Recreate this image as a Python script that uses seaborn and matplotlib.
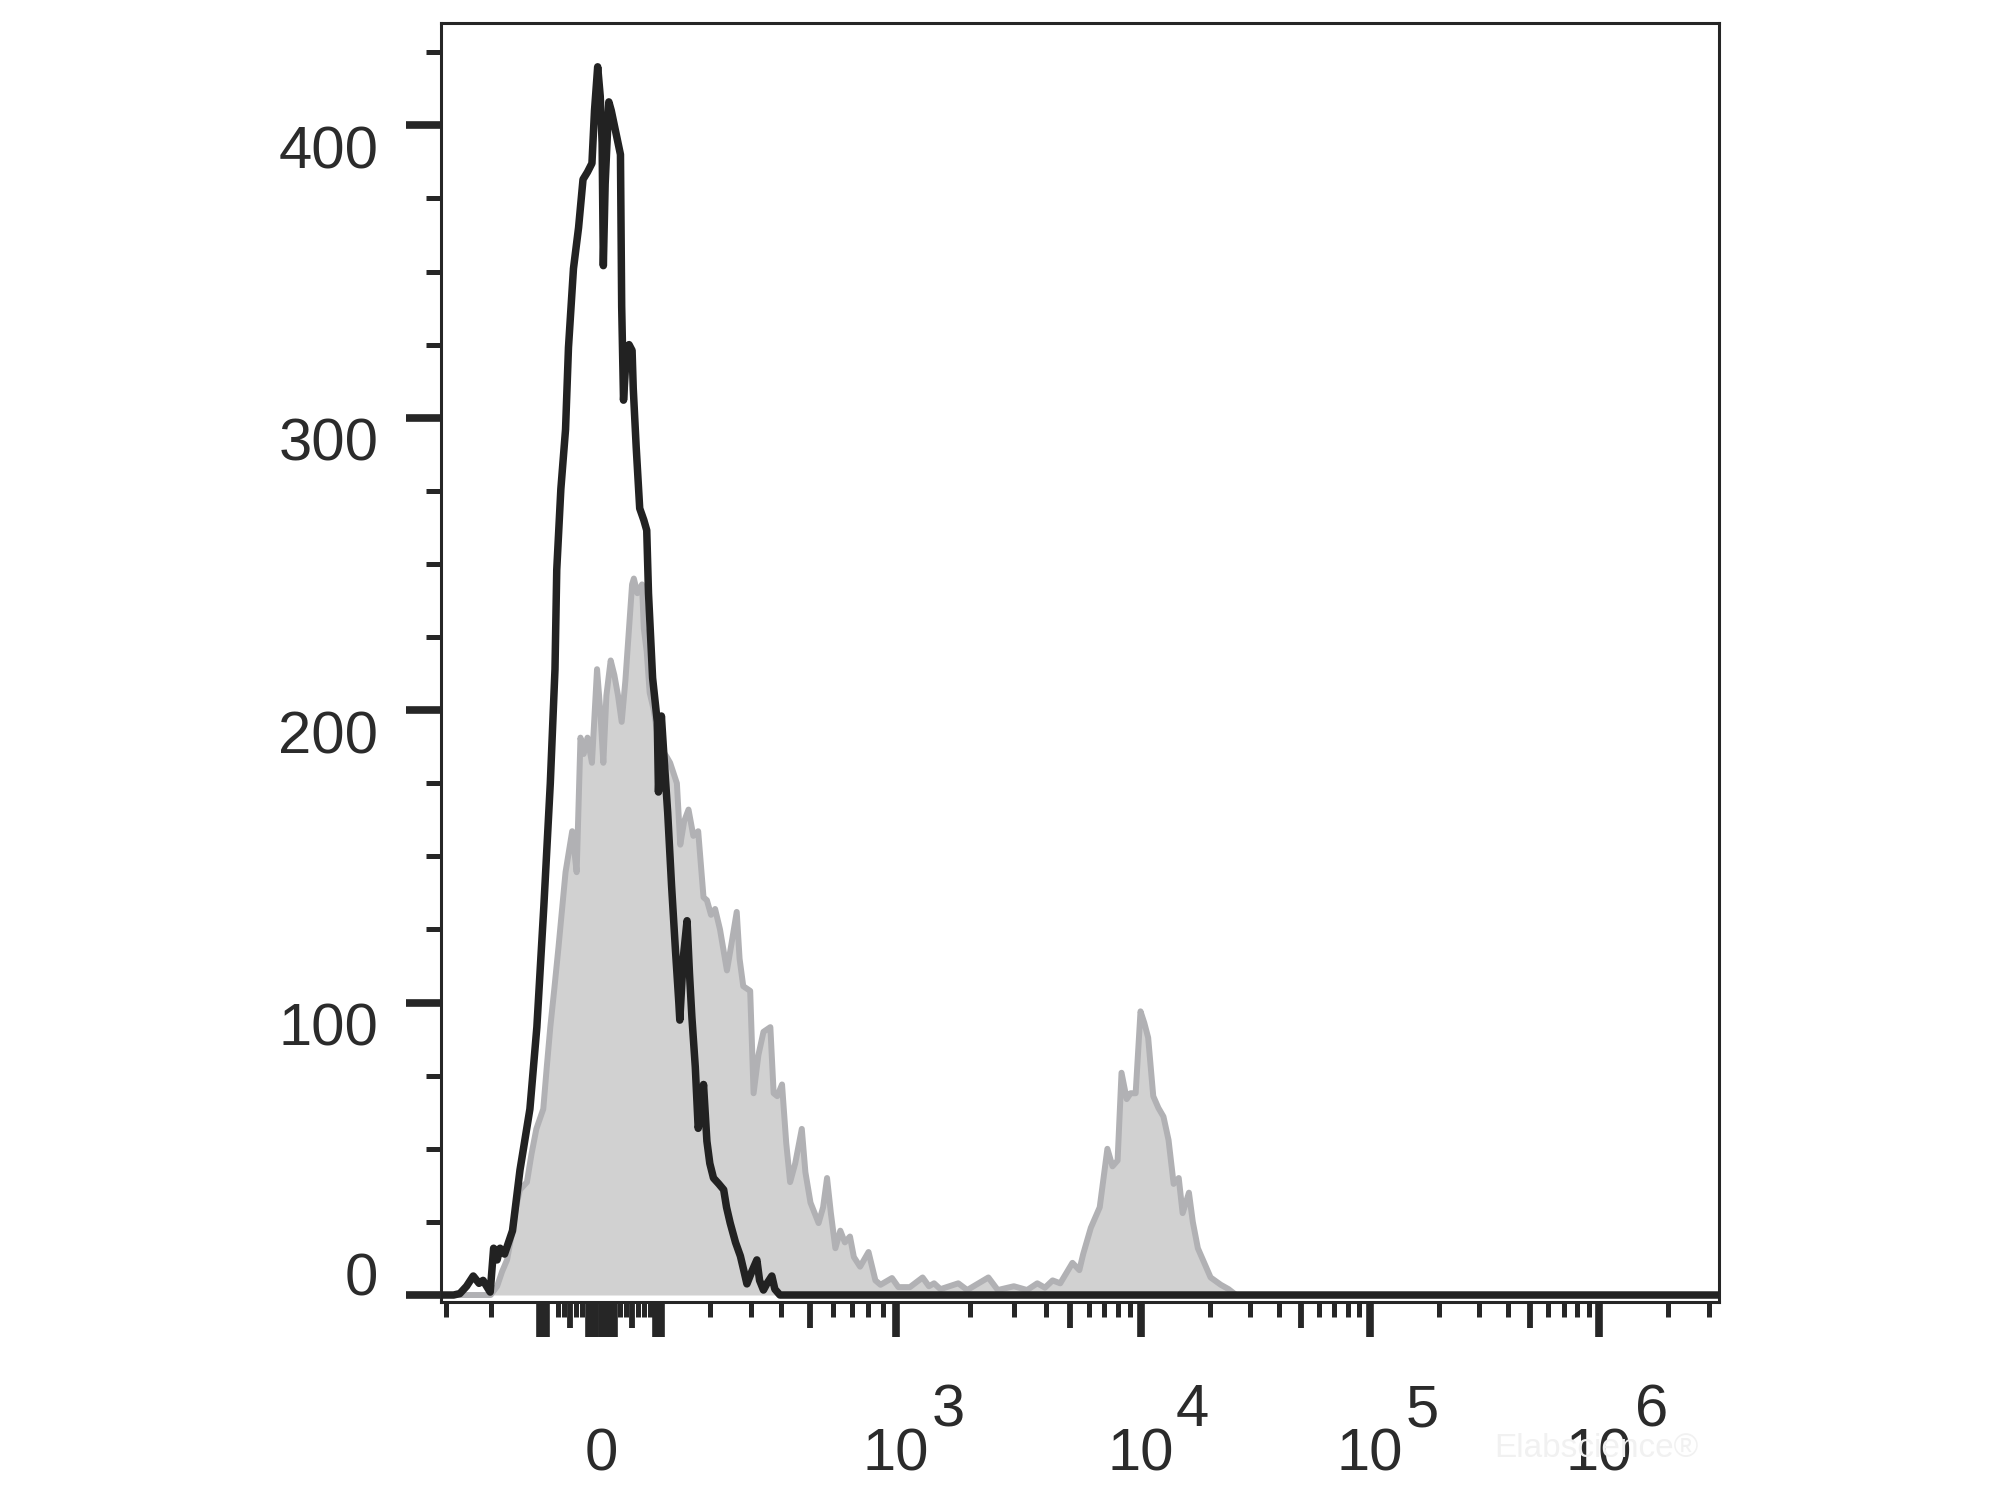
import numpy as np
import pandas as pd
import matplotlib
matplotlib.use("Agg")
import matplotlib.pyplot as plt
import matplotlib.transforms as mtransforms
from matplotlib.ticker import FixedLocator, NullFormatter
import seaborn as sns

# ---------------- data (fluorescence intensity vs. cell count) ----------------
control_intensity = [-320, -283, -269, -254, -239, -226, -217, -201, -194, -187, -181, -172,
                     -156, -141, -121, -107, -94, -83, -75, -72, -65, -57, -52, -44, -36, -29,
                     -22, -15, -11, -6, -2, 1, 3, 6, 12, 16, 20, 25, 31, 33, 36, 40, 45, 50,
                     52, 57, 63, 70, 75, 78, 85, 93, 95, 100, 105, 113, 121, 129, 136, 138,
                     145, 153, 158, 163, 170, 176, 182, 187, 194, 200, 209, 222, 234, 241,
                     250, 263, 275, 284, 291, 304, 321, 330, 343, 355, 371, 381, 398, 419,
                     578, 3330000]
control_count = [0, 0, 0.5, 3, 6.5, 4, 5, 1, 16, 12, 16, 14,
                 22, 42.7, 63.6, 91.6, 133, 175, 214, 248, 275.6, 296, 324, 351, 365, 381.5,
                 384, 387, 405, 420, 410, 394, 352, 380, 408, 405, 401, 396, 390, 338, 306, 320, 325, 323,
                 310, 290, 269, 265, 261.5, 240, 211, 196, 172, 198, 185, 165, 140, 118, 100, 94,
                 115, 128, 110, 95, 78, 57, 62, 72, 52.6, 45, 40, 38, 36, 30,
                 24.6, 18, 13.3, 8, 3.8, 8, 12, 5, 1.7, 4, 6.5, 2, 0, 0,
                 0, 0]

stained_intensity = [-320, -200, -187, -177, -167, -156, -149, -141, -127, -118, -108, -95, -89,
                     -83, -76, -69, -63, -57, -46, -39, -33, -28, -22, -15, -7, -2, 3, 8, 15,
                     21, 27, 33, 39, 44, 50, 53, 59, 67, 70, 75, 80, 87, 93, 103, 111, 118,
                     132, 139, 147, 156, 166, 176, 187, 194, 203, 213, 225, 242, 253, 266,
                     273, 282, 299, 310, 326, 343, 366, 377, 389, 405, 419, 432, 449, 471,
                     483, 500, 534, 554, 572, 590, 612, 637, 661, 689, 711, 748, 801, 847,
                     883, 969, 1024, 1141, 1285, 1364, 1431, 1519, 1796, 1953, 2369, 2581,
                     2988, 3371, 3698, 3965, 4251, 4557, 5101, 5461, 5672, 6118, 6680, 7206,
                     7579, 7971, 8287, 8723, 9062, 9531, 10000, 10391, 10798, 11365, 11962,
                     12589, 13250, 13946, 14678, 15264, 16260, 16904, 17783, 18957, 20210,
                     22387, 24210, 26102, 3330000]
stained_count = [0, 0, 3, 8, 12, 22, 30, 36, 38.6, 48, 56.8, 63.6, 78,
                 91.6, 105, 119, 132, 144.6, 158.6, 144.6, 190.6, 185, 190.6, 182, 214, 200, 182, 205, 217,
                 212, 205, 196, 210, 225, 243, 245, 240, 243, 228, 220, 206, 200, 192, 186, 184, 182,
                 175, 154, 162, 166, 157, 158.6, 136, 135, 130, 132, 125, 111, 120, 131,
                 115, 105.6, 104, 69, 82, 90, 91.6, 69, 68, 72, 52, 38.6, 45, 56.8,
                 42, 31.6, 24.6, 30, 40, 28, 16, 22, 18, 20, 13, 9.7, 14.7, 5,
                 3.5, 5.8, 2.7, 2.7, 6, 3, 4, 2, 4, 1.7, 6, 1.7,
                 3, 1.7, 4, 2.5, 5, 4, 11, 8.5, 14, 23, 30, 50,
                 44, 46, 76, 67, 69, 69, 97, 93, 88, 68, 64,
                 61, 53, 38, 40, 28, 35, 25, 16, 11, 6,
                 3.5, 2, 0, 0]

y_major = [0, 100, 200, 300, 400]
y_minor = [25, 50, 75, 125, 150, 175, 225, 250, 275, 325, 350, 375, 425]

x_long_ticks = [-100, -90, -20, -10, 0, 10, 20, 90, 100, 1e3, 1e4, 1e5, 1e6]
x_medium_ticks = [-50, 50, 500, 5e3, 5e4, 5e5]
x_small_ticks = [-300, -200, -70, -60, -40, -30, 30, 40, 60, 70, 80,
                 200, 300, 400, 600, 700, 800, 900,
                 2e3, 3e3, 4e3, 6e3, 7e3, 8e3, 9e3,
                 2e4, 3e4, 4e4, 6e4, 7e4, 8e4, 9e4,
                 2e5, 3e5, 4e5, 6e5, 7e5, 8e5, 9e5,
                 2e6, 3e6]
x_label_values = [0, 1e3, 1e4, 1e5, 1e6]
x_label_base = ["0", "10", "10", "10", "10"]
x_label_exp = ["", "3", "4", "5", "6"]

# ---------------- biexponential-like display scale ----------------
SCALE_VALUES = np.array([-1000, -300, -200, -100, -50, 0, 50, 100, 200, 300, 500,
                         1e3, 2e3, 5e3, 1e4, 1e5, 1e6, 1e7])
SCALE_CHANNELS = np.array([241, 350, 385, 424, 447, 472, 496, 519, 557, 589, 636,
                           703, 761, 840, 895, 1075, 1255, 1435], dtype=float)


def _t(x):
    x = np.asarray(x, dtype=float)
    a = np.abs(x)
    return np.sign(x) * np.where(a <= 500, a, 500 * (1 + np.log(np.maximum(a, 500) / 500)))


def _tinv(t):
    t = np.asarray(t, dtype=float)
    a = np.abs(t)
    return np.sign(t) * np.where(a <= 500, a, 500 * np.exp(np.maximum(a, 500) / 500 - 1))


T_KNOTS = _t(SCALE_VALUES)


def forward(x):
    return np.interp(_t(x), T_KNOTS, SCALE_CHANNELS)


def inverse(c):
    return _tinv(np.interp(c, SCALE_CHANNELS, T_KNOTS))


# ---------------- styling ----------------
sns.set_theme(style="white")
plt.rcParams["font.family"] = ["Liberation Sans", "DejaVu Sans"]

INK = "#262626"
TEXT = "#2b2b2b"
FILL = "#d1d1d1"
EDGE = "#b1b1b4"

fig = plt.figure(figsize=(19.98, 14.99), dpi=100)
ax = fig.add_axes([0.2207, 0.1314, 0.6397, 0.8533])
ax.set_xscale("function", functions=(forward, inverse))

control = pd.DataFrame({"intensity": control_intensity, "count": control_count})
stained = pd.DataFrame({"intensity": stained_intensity, "count": stained_count})

ax.fill_between(stained["intensity"], 0, stained["count"], color=FILL, lw=0, zorder=2)
sns.lineplot(data=stained, x="intensity", y="count", ax=ax, color=EDGE, lw=4.3,
             estimator=None, sort=False, zorder=3)
sns.lineplot(data=control, x="intensity", y="count", ax=ax, color="#222222", lw=5.4,
             estimator=None, sort=False, zorder=4)

ax.set_xlim(-320, 3.33e6)
ax.set_ylim(-2.4, 435)
ax.set_xlabel("")
ax.set_ylabel("")
ax.grid(False)

for s in ax.spines.values():
    s.set_visible(True)
    s.set_color(INK)
    s.set_linewidth(2.2)

# y axis ticks
ax.yaxis.set_major_locator(FixedLocator(y_major))
ax.yaxis.set_minor_locator(FixedLocator(y_minor))
ax.set_yticklabels([str(v) for v in y_major])
ax.tick_params(axis="y", which="major", left=True, length=25, width=5.5, color=INK,
               labelsize=43, labelcolor=TEXT, pad=20, direction="out")
ax.tick_params(axis="y", which="minor", left=True, length=11, width=3.6, color=INK,
               direction="out")
for val, lab in zip(y_major, ax.get_yticklabels()):
    # the zero label sits just above its tick, the others hang below theirs
    lab.set_verticalalignment("baseline" if val == 0 else "top")

# x axis ticks
ax.xaxis.set_major_locator(FixedLocator(x_long_ticks))
ax.xaxis.set_minor_locator(FixedLocator(sorted(x_small_ticks + x_medium_ticks)))
ax.xaxis.set_major_formatter(NullFormatter())
ax.xaxis.set_minor_formatter(NullFormatter())
ax.tick_params(axis="x", which="major", bottom=True, length=25, width=5.5, color=INK,
               direction="out")
ax.tick_params(axis="x", which="minor", bottom=True, length=11, width=3.6, color=INK,
               direction="out")
minor_locs = ax.xaxis.get_minorticklocs()
for tick, loc in zip(ax.xaxis.get_minor_ticks(len(minor_locs)), minor_locs):
    if any(np.isclose(loc, m) for m in x_medium_ticks):
        tick.tick1line.set_markersize(19)
        tick.tick1line.set_markeredgewidth(4.2)

# x tick labels: base and raised exponent (same size, as in flow-cytometry software)
trans = mtransforms.blended_transform_factory(ax.transData, ax.transAxes)
exp_shift = mtransforms.ScaledTranslation(0.52, 0, fig.dpi_scale_trans)
for val, base, ex in zip(x_label_values, x_label_base, x_label_exp):
    ax.text(val, -0.1314, base, transform=trans, ha="center", va="baseline",
            fontsize=43, color=TEXT, clip_on=False)
    if ex:
        ax.text(val, -0.097, ex, transform=trans + exp_shift, ha="center",
                va="baseline", fontsize=43, color=TEXT, clip_on=False)

# faint watermark
fig.text(0.799, 0.034, "Elabscience\u00ae", ha="center", va="center", fontsize=24,
         color="#f1f1f1", zorder=0)

fig.savefig("out.png", dpi=100)
